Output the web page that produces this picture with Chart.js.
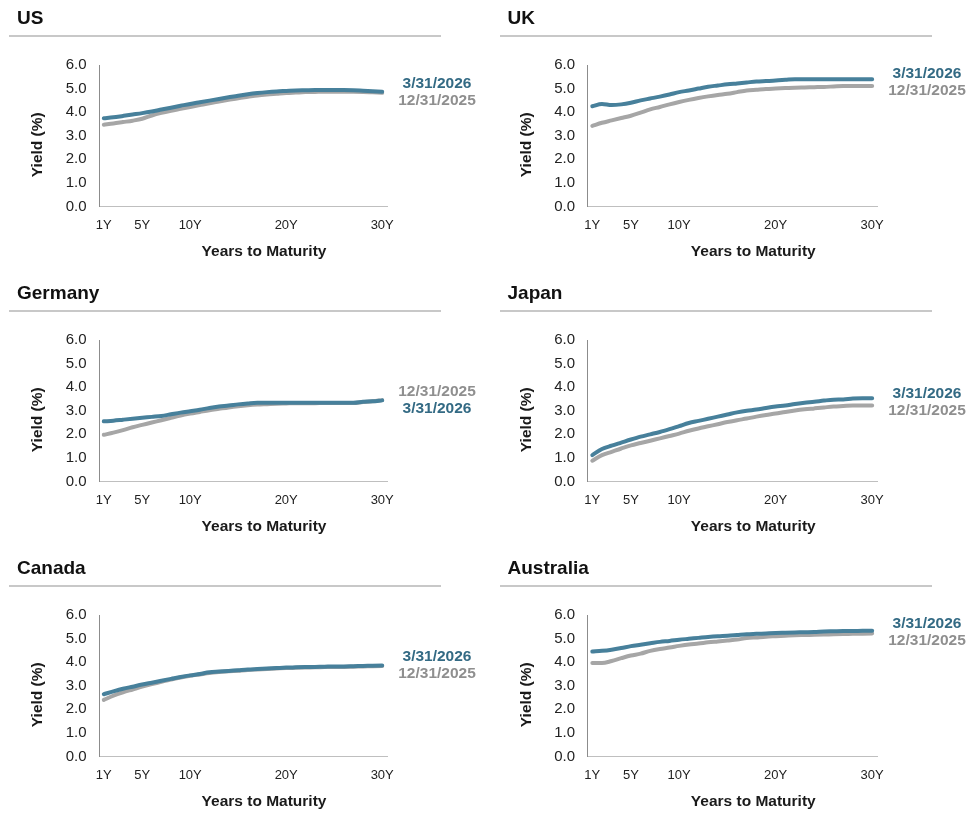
<!DOCTYPE html>
<html>
<head>
<meta charset="utf-8">
<script src="https://cdn.jsdelivr.net/npm/chart.js@4.4.1/dist/chart.umd.min.js"></script>
<style>
  html, body { margin: 0; padding: 0; background: #fff; }
  body { width: 979px; height: 826px; position: relative; overflow: hidden; font-family: "Liberation Sans", Arial, sans-serif; }
  .panel { position: absolute; height: 275px; }
  .panel h2 { position: absolute; left: 17px; top: 8px; margin: 0; font-size: 19px; line-height: 19px; font-weight: bold; color: #111; }
  .panel .rule { position: absolute; left: 9px; width: 432px; top: 34.5px; height: 2px; background: #c8c8c8; }
  .panel canvas { position: absolute; left: 0; top: 0; }
</style>
</head>
<body>
<script>
/* ===== Data ===== */

const maturities = [1, 2, 3, 4, 5, 6, 7, 8, 9, 10, 11, 12, 13, 14, 15, 16, 17, 18, 19, 20, 21, 22, 23, 24, 25, 26, 27, 28, 29, 30];
const tickYears = [1, 5, 10, 20, 30];
const seriesNames = ["3/31/2026", "12/31/2025"];
const countries = ["US", "UK", "Germany", "Japan", "Canada", "Australia"];

const usMar26 = [3.74, 3.78, 3.84, 3.90, 3.96, 4.03, 4.11, 4.19, 4.27, 4.35, 4.42, 4.49, 4.56, 4.63, 4.70, 4.76, 4.81, 4.85, 4.88, 4.90, 4.92, 4.93, 4.94, 4.94, 4.94, 4.94, 4.93, 4.91, 4.89, 4.87];
const usDec25 = [3.47, 3.52, 3.58, 3.64, 3.72, 3.86, 3.97, 4.06, 4.14, 4.22, 4.30, 4.38, 4.45, 4.52, 4.59, 4.65, 4.71, 4.75, 4.78, 4.81, 4.83, 4.85, 4.86, 4.87, 4.87, 4.87, 4.87, 4.86, 4.84, 4.82];

const ukMar26 = [4.25, 4.35, 4.30, 4.33, 4.40, 4.50, 4.58, 4.66, 4.75, 4.85, 4.92, 5.00, 5.08, 5.13, 5.18, 5.22, 5.26, 5.30, 5.32, 5.34, 5.37, 5.40, 5.40, 5.40, 5.40, 5.40, 5.40, 5.40, 5.40, 5.40];
const ukDec25 = [3.42, 3.55, 3.65, 3.75, 3.85, 3.98, 4.12, 4.22, 4.33, 4.43, 4.52, 4.60, 4.67, 4.73, 4.78, 4.85, 4.92, 4.95, 4.98, 5.00, 5.02, 5.04, 5.05, 5.06, 5.07, 5.09, 5.11, 5.11, 5.11, 5.11];

const deMar26 = [2.55, 2.58, 2.62, 2.66, 2.70, 2.74, 2.78, 2.85, 2.92, 2.98, 3.04, 3.12, 3.18, 3.22, 3.27, 3.31, 3.34, 3.34, 3.34, 3.34, 3.34, 3.34, 3.34, 3.34, 3.34, 3.34, 3.34, 3.38, 3.40, 3.44];
const deDec25 = [1.98, 2.07, 2.18, 2.30, 2.40, 2.50, 2.60, 2.70, 2.80, 2.88, 2.95, 3.02, 3.08, 3.14, 3.19, 3.23, 3.26, 3.28, 3.30, 3.31, 3.32, 3.32, 3.32, 3.33, 3.33, 3.33, 3.33, 3.37, 3.40, 3.45];

const jpMar26 = [1.12, 1.38, 1.52, 1.65, 1.78, 1.90, 2.00, 2.10, 2.22, 2.35, 2.48, 2.57, 2.66, 2.75, 2.84, 2.93, 3.00, 3.05, 3.12, 3.18, 3.22, 3.29, 3.34, 3.38, 3.43, 3.47, 3.48, 3.52, 3.53, 3.53];
const jpDec25 = [0.88, 1.12, 1.26, 1.40, 1.53, 1.63, 1.73, 1.83, 1.93, 2.03, 2.15, 2.25, 2.34, 2.43, 2.52, 2.60, 2.67, 2.75, 2.82, 2.88, 2.95, 3.01, 3.06, 3.10, 3.14, 3.18, 3.20, 3.22, 3.22, 3.22];

const caMar26 = [2.64, 2.76, 2.87, 2.96, 3.05, 3.13, 3.21, 3.29, 3.37, 3.44, 3.50, 3.57, 3.60, 3.63, 3.66, 3.69, 3.71, 3.73, 3.75, 3.77, 3.78, 3.79, 3.80, 3.81, 3.82, 3.82, 3.83, 3.84, 3.85, 3.86];
const caDec25 = [2.40, 2.58, 2.72, 2.84, 2.96, 3.07, 3.17, 3.26, 3.35, 3.42, 3.48, 3.54, 3.58, 3.61, 3.64, 3.67, 3.69, 3.71, 3.73, 3.75, 3.76, 3.77, 3.78, 3.79, 3.80, 3.80, 3.81, 3.82, 3.83, 3.84];

const auMar26 = [4.45, 4.48, 4.53, 4.60, 4.68, 4.74, 4.80, 4.86, 4.90, 4.95, 4.99, 5.03, 5.07, 5.10, 5.12, 5.15, 5.18, 5.20, 5.22, 5.24, 5.25, 5.26, 5.27, 5.28, 5.30, 5.31, 5.32, 5.32, 5.33, 5.33];
const auDec25 = [3.96, 3.96, 4.05, 4.17, 4.28, 4.36, 4.48, 4.56, 4.62, 4.69, 4.75, 4.79, 4.84, 4.88, 4.92, 4.96, 5.02, 5.05, 5.08, 5.10, 5.12, 5.14, 5.15, 5.16, 5.17, 5.18, 5.19, 5.20, 5.21, 5.22];

const marSeries = [usMar26, ukMar26, deMar26, jpMar26, caMar26, auMar26];
const decSeries = [usDec25, ukDec25, deDec25, jpDec25, caDec25, auDec25];

/* ===== Styles ===== */

const FONT = "'Liberation Sans', Arial, sans-serif";
const BLUE_LINE = "#47809b";
const BLUE_TEXT = "#336a84";
const GRAY_LINE = "#a6a6a6";
const GRAY_TEXT = "#8f8f8f";

Chart.defaults.font.family = FONT;
Chart.defaults.color = "#222";

/* ===== Plugins ===== */

// labels to the right of the last points, pushed apart when they collide
const endLabels = {
  id: "endLabels",
  afterDatasetsDraw(chart) {
    const { ctx, chartArea, scales } = chart;
    const items = chart.data.datasets.map(ds => ({
      text: ds.label,
      color: ds.labelColor,
      y: scales.y.getPixelForValue(ds.data[ds.data.length - 1].y)
    }));
    items.sort((a, b) => a.y - b.y);
    const gap = 17;
    if (items[1].y - items[0].y < gap) {
      const mid = (items[0].y + items[1].y) / 2;
      items[0].y = mid - gap / 2;
      items[1].y = mid + gap / 2;
    }
    ctx.save();
    ctx.font = "bold 15.5px " + FONT;
    ctx.textAlign = "center";
    ctx.textBaseline = "middle";
    items.forEach(it => {
      ctx.fillStyle = it.color;
      ctx.fillText(it.text, chartArea.right + 50, it.y);
    });
    ctx.restore();
  }
};

const axisTitles = {
  id: "axisTitles",
  afterDraw(chart) {
    const { ctx, chartArea } = chart;
    ctx.save();
    ctx.font = "bold 15.5px " + FONT;
    ctx.fillStyle = "#1a1a1a";
    ctx.textAlign = "center";
    ctx.textBaseline = "middle";
    ctx.fillText("Years to Maturity", (chartArea.left + chartArea.right) / 2 + 21, chartArea.bottom + 45);
    ctx.translate(chartArea.left - 61, (chartArea.top + chartArea.bottom) / 2 + 9);
    ctx.rotate(-Math.PI / 2);
    ctx.fillText("Yield (%)", 0, 0);
    ctx.restore();
  }
};

/* ===== Panels ===== */

function toPoints(values) {
  return maturities.map((m, i) => ({ x: m, y: values[i] }));
}

function makePanel(idx) {
  const col = idx % 2;
  const row = Math.floor(idx / 2);
  const width = col === 0 ? 490 : 489;
  const height = 275;
  const areaLeft = col === 0 ? 99 : 97.5;
  const areaRight = 387;

  const panel = document.createElement("div");
  panel.className = "panel";
  panel.style.left = (col * 490) + "px";
  panel.style.top = (row * 275) + "px";
  panel.style.width = width + "px";

  const canvas = document.createElement("canvas");
  canvas.width = width;
  canvas.height = height;
  panel.appendChild(canvas);

  const title = document.createElement("h2");
  title.textContent = countries[idx];
  if (col === 1) title.style.left = "17.5px";
  panel.appendChild(title);

  const rule = document.createElement("div");
  rule.className = "rule";
  if (col === 1) rule.style.left = "10px";
  panel.appendChild(rule);

  document.body.appendChild(panel);

  new Chart(canvas, {
    type: "line",
    data: {
      datasets: [{
        label: seriesNames[0],
        labelColor: BLUE_TEXT,
        data: toPoints(marSeries[idx]),
        borderColor: BLUE_LINE,
        borderWidth: 4,
        borderCapStyle: "round",
        pointRadius: 0,
        cubicInterpolationMode: "monotone"
      }, {
        label: seriesNames[1],
        labelColor: GRAY_TEXT,
        data: toPoints(decSeries[idx]),
        borderColor: GRAY_LINE,
        borderWidth: 4,
        borderCapStyle: "round",
        pointRadius: 0,
        cubicInterpolationMode: "monotone"
      }]
    },
    options: {
      responsive: false,
      animation: false,
      devicePixelRatio: 1,
      layout: { padding: { left: 0, top: 65, right: width - areaRight, bottom: 0 } },
      plugins: { legend: { display: false }, tooltip: { enabled: false } },
      scales: {
        x: {
          type: "linear",
          min: 0.5,
          max: 30.5,
          afterBuildTicks: s => { s.ticks = tickYears.map(v => ({ value: v })); },
          afterFit: s => { s.height = height - 206.5; },
          grid: { display: false, drawTicks: false },
          border: { display: true, color: "#bfbfbf", width: 1 },
          ticks: {
            autoSkip: false,
            maxRotation: 0,
            padding: 11,
            font: { size: 13 },
            color: "#222",
            callback: v => v + "Y"
          }
        },
        y: {
          min: 0,
          max: 6,
          afterFit: s => { s.width = areaLeft; },
          grid: { display: false, drawTicks: false },
          border: { display: true, color: "#8c8c8c", width: 1 },
          ticks: {
            stepSize: 1,
            padding: 12.5,
            font: { size: 15 },
            color: "#222",
            callback: v => v.toFixed(1)
          }
        }
      }
    },
    plugins: [endLabels, axisTitles]
  });
}

countries.forEach((c, i) => makePanel(i));
</script>
</body>
</html>
